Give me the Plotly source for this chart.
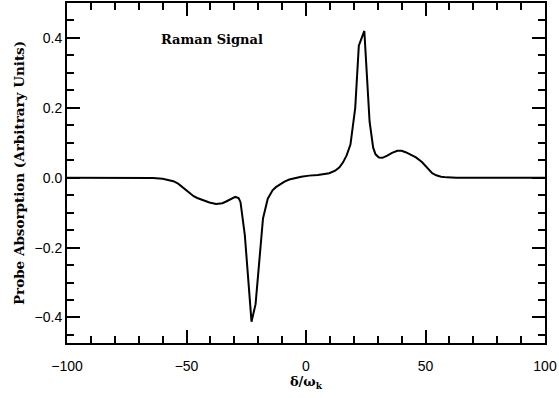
import plotly.graph_objects as go

# Detuning delta/omega_k
delta = [-100, -70, -64, -60, -57.5, -55.5, -53.5, -52, -50, -48.5, -47, -45.5, -43.5,
         -40.4, -37.6, -35, -33.4, -31.5, -29.6, -28.2, -27.4, -25.6, -24.0, -22.8,
         -21.1, -19.9, -18.0, -16.0, -14.0, -12.6, -11, -9, -7, -5, -2, 1.3, 5, 9.7,
         12.2, 14, 15.5, 17, 18.6, 20.6, 22.1, 24.4, 26.6, 28.1, 29.1, 30.5, 32, 34,
         36, 38.2, 40, 41.7, 44, 46, 48.5, 50, 51.5, 52.8, 54.5, 56.5, 59, 63, 100]
# Probe absorption (arbitrary units)
absorption = [0, 0, -0.001, -0.003, -0.006, -0.01, -0.017, -0.025, -0.037, -0.046,
              -0.053, -0.058, -0.064, -0.071, -0.075, -0.073, -0.068, -0.061, -0.055,
              -0.058, -0.07, -0.164, -0.306, -0.412, -0.362, -0.258, -0.117, -0.06,
              -0.036, -0.027, -0.019, -0.011, -0.005, -0.001, 0.003, 0.006, 0.008, 0.013,
              0.02, 0.03, 0.044, 0.064, 0.095, 0.2, 0.378, 0.42, 0.161, 0.086, 0.067,
              0.058, 0.057, 0.063, 0.071, 0.077, 0.077, 0.073, 0.066, 0.058, 0.045,
              0.034, 0.022, 0.013, 0.007, 0.003, 0.001, 0, 0]

x_ticks = [-100, -50, 0, 50, 100]
y_ticks = [-0.4, -0.2, 0.0, 0.2, 0.4]

serif = "DejaVu Serif"
sans = "Liberation Sans"

fig = go.Figure()
fig.add_trace(go.Scatter(x=delta, y=absorption, mode="lines",
                         line=dict(color="black", width=2), showlegend=False))

fig.add_annotation(x=-39.3, y=0.396, xref="x", yref="y", text="<b>Raman Signal</b>",
                   showarrow=False, font=dict(family=serif, size=13, color="black"))

axis_common = dict(showline=True, linecolor="black", linewidth=2, mirror="ticks",
                   ticks="inside", tickcolor="black", tickwidth=1.5, ticklen=13,
                   showgrid=False, zeroline=False)

fig.update_xaxes(range=[-100, 100], tickvals=x_ticks,
                 ticktext=[str(v).replace("-", "\u2212") for v in x_ticks],
                 minor=dict(dtick=10, tick0=0, ticks="inside", ticklen=7, tickwidth=1.5,
                            tickcolor="black", showgrid=False),
                 tickfont=dict(family=sans, size=14, color="black"),
                 ticklabelstandoff=9,
                 title=dict(text="<b>\u03b4/\u03c9<sub>k</sub></b>",
                            font=dict(family=serif, size=13, color="black"), standoff=1),
                 **axis_common)
fig.update_yaxes(range=[-0.473, 0.5], tickvals=y_ticks,
                 ticktext=[f"{v:.1f}".replace("-", "\u2212") for v in y_ticks],
                 minor=dict(dtick=0.05, tick0=0, ticks="inside", ticklen=7, tickwidth=1.5,
                            tickcolor="black", showgrid=False),
                 tickfont=dict(family=sans, size=14, color="black"),
                 title=dict(text="<b>Probe Absorption (Arbitrary Units)</b>",
                            font=dict(family=serif, size=13.5, color="black"), standoff=7),
                 **axis_common)

fig.update_layout(width=559, height=398, margin=dict(l=67, r=14, t=1, b=55),
                  paper_bgcolor="white", plot_bgcolor="white")

fig.write_html("out.html")
